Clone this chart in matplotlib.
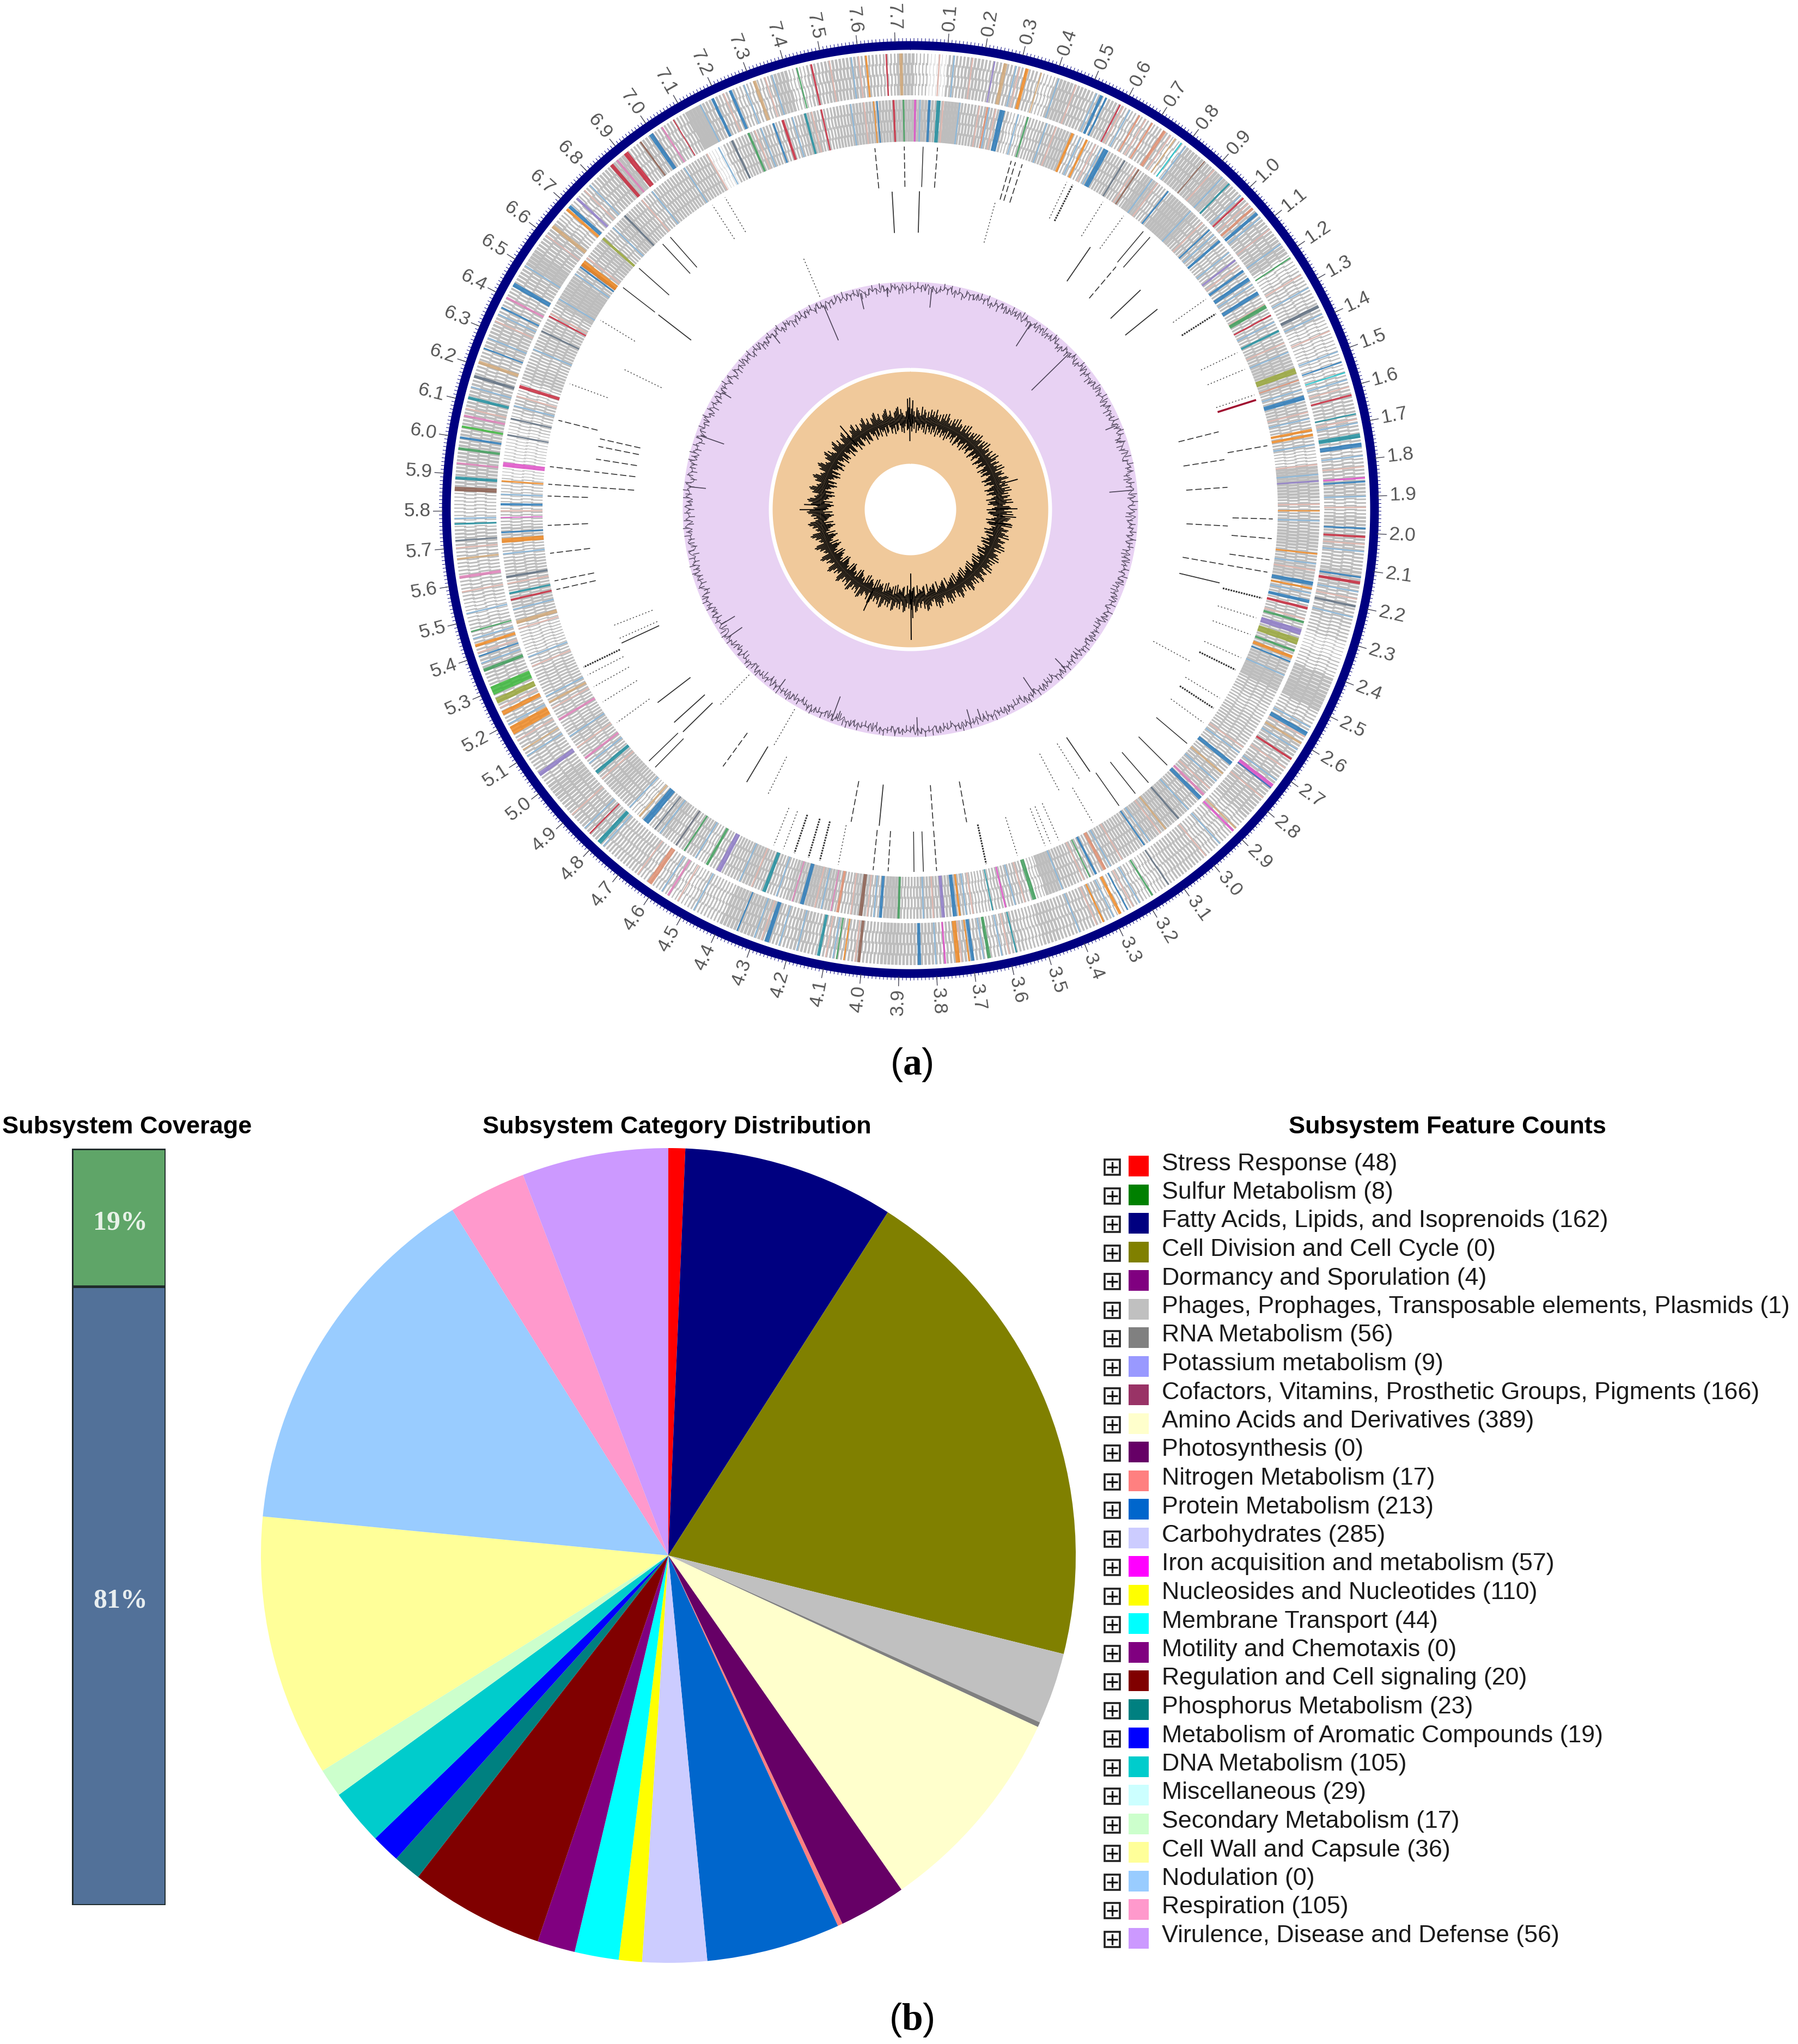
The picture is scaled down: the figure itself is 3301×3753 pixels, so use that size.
# -*- coding: utf-8 -*-
"""
Genome map (a) and subsystem summary (b)
"""
import numpy as np
import matplotlib
matplotlib.use("Agg")
import matplotlib.pyplot as plt

plt.rcParams['font.family'] = ['Liberation Sans', 'DejaVu Sans']
plt.rcParams['mathtext.fontset'] = 'custom'
plt.rcParams['mathtext.rm'] = 'Liberation Serif'
plt.rcParams['mathtext.bf'] = 'Liberation Serif:bold'

W, H = 3301, 3753

# ---------- panel a data ----------
genome_mb = 7.74
tick_labels = ['%.1f' % (i / 10.) for i in range(1, 78)]

# grey share of each 0.05 Mb bin, 0 (empty) to 9 (solid), read by eye
ring1_density = ("3156555376" "5644537786" "6667344533" "3455545646" "6575542378"
                 "4565666444" "5543435556" "4545656675" "5556577744" "3445556667"
                 "5555555654" "3444533666" "6665566556" "8664456856" "5596544735"
                 "66547")
ring2_density = ("8796663567" "4466585886" "6555555567" "7565538756" "7676556678"
                 "5455556667" "7766655683" "5544666585" "7578756765" "4657536765"
                 "5655554335" "6554643322" "2353656658" "8667576566" "6615665575"
                 "67778")

gene_colors = {'blue': '#2b7bba', 'orange': '#f08a24', 'red': '#c8283c', 'pink': '#df7fb8',
               'magenta': '#e050c8', 'green': '#3e9e5a', 'lime': '#3cb83c', 'teal': '#1f8f9f',
               'cyan': '#22c4cc', 'purple': '#8e7cc8', 'brown': '#8c5f50', 'salmon': '#e08e70',
               'tan': '#d2a878', 'olive': '#9aa83c', 'slate': '#5f6f80'}

# (position Mb, category colour, length kb)
ring1_genes = [
    (0.23, 'purple', 4), (0.26, 'tan', 10), (0.32, 'orange', 9), (0.36, 'tan', 4), (0.534, 'blue', 8),
    (0.548, 'blue', 5), (0.59, 'red', 4), (0.65, 'salmon', 5), (0.69, 'salmon', 5), (0.73, 'salmon', 9),
    (0.765, 'tan', 4), (0.785, 'cyan', 4), (0.865, 'brown', 3), (0.955, 'teal', 5), (1.01, 'red', 5),
    (1.047, 'salmon', 7), (1.065, 'blue', 9), (1.215, 'green', 4), (1.367, 'slate', 9), (1.53, 'blue', 4),
    (1.56, 'cyan', 4), (1.623, 'red', 5), (1.675, 'teal', 4), (1.735, 'teal', 12), (1.76, 'blue', 12),
    (1.85, 'magenta', 5), (1.86, 'blue', 5), (1.987, 'blue', 5), (2.01, 'red', 6), (2.12, 'blue', 5),
    (2.135, 'red', 8), (2.2, 'slate', 6), (2.57, 'blue', 12), (2.6, 'tan', 6), (2.65, 'red', 6),
    (2.74, 'magenta', 14), (2.745, 'blue', 4), (2.89, 'tan', 5), (2.90, 'magenta', 6), (3.127, 'slate', 4),
    (3.18, 'green', 5), (3.257, 'blue', 4), (3.28, 'orange', 8), (3.33, 'orange', 5), (3.58, 'teal', 4),
    (3.655, 'green', 9), (3.70, 'blue', 9), (3.71, 'orange', 4), (3.74, 'orange', 12), (3.775, 'magenta', 5),
    (3.845, 'blue', 9), (4.01, 'brown', 8), (4.05, 'orange', 4), (4.07, 'green', 4), (4.12, 'teal', 8),
    (4.265, 'blue', 12), (4.35, 'blue', 4), (4.56, 'pink', 6), (4.62, 'salmon', 14), (4.795, 'teal', 12),
    (4.83, 'red', 4), (5.04, 'purple', 12), (5.12, 'tan', 4), (5.18, 'orange', 24), (5.233, 'orange', 12),
    (5.27, 'olive', 16), (5.30, 'lime', 24), (5.36, 'green', 9), (5.40, 'blue', 4), (5.43, 'orange', 8),
    (5.47, 'green', 4), (5.62, 'pink', 8), (5.67, 'tan', 5), (5.72, 'slate', 4), (5.765, 'teal', 5),
    (5.86, 'brown', 12), (5.89, 'teal', 8), (5.93, 'pink', 5), (5.97, 'green', 7), (6.0, 'blue', 6),
    (6.03, 'lime', 6), (6.06, 'pink', 6), (6.11, 'teal', 8), (6.17, 'slate', 8), (6.21, 'tan', 9),
    (6.25, 'blue', 4), (6.37, 'blue', 5), (6.40, 'pink', 6), (6.44, 'blue', 12), (6.63, 'tan', 10),
    (6.69, 'orange', 8), (6.70, 'blue', 10), (6.73, 'purple', 7), (6.86, 'red', 10), (6.88, 'pink', 6),
    (6.91, 'red', 14), (6.96, 'brown', 5), (6.995, 'blue', 12), (7.03, 'pink', 5), (7.067, 'red', 3),
    (7.187, 'blue', 8), (7.24, 'blue', 8), (7.31, 'tan', 9), (7.43, 'green', 4), (7.47, 'red', 5),
    (7.62, 'orange', 5), (7.675, 'red', 4), (7.715, 'tan', 9)]
ring2_genes = [
    (0.015, 'magenta', 6), (0.058, 'blue', 8), (0.086, 'teal', 12), (0.234, 'salmon', 5), (0.28, 'blue', 16),
    (0.36, 'green', 5), (0.503, 'orange', 8), (0.55, 'orange', 7), (0.615, 'blue', 16), (0.68, 'slate', 5),
    (0.73, 'brown', 5), (0.84, 'blue', 5), (1.01, 'blue', 5), (1.055, 'blue', 8), (1.13, 'purple', 6),
    (1.17, 'blue', 8), (1.20, 'blue', 12), (1.25, 'blue', 12), (1.297, 'green', 12), (1.327, 'red', 5),
    (1.38, 'teal', 7), (1.51, 'olive', 18), (1.54, 'salmon', 4), (1.595, 'blue', 14), (1.695, 'orange', 8),
    (1.71, 'orange', 8), (1.85, 'purple', 5), (1.94, 'orange', 4), (2.07, 'orange', 5), (2.16, 'blue', 12),
    (2.175, 'orange', 6), (2.215, 'blue', 10), (2.236, 'red', 8), (2.28, 'green', 7), (2.31, 'purple', 18),
    (2.34, 'olive', 20), (2.37, 'green', 7), (2.39, 'orange', 10), (2.405, 'blue', 5), (2.76, 'blue', 12),
    (2.80, 'tan', 6), (2.90, 'blue', 12), (2.885, 'pink', 8), (2.99, 'slate', 6), (3.04, 'tan', 6),
    (3.12, 'blue', 5), (3.26, 'salmon', 10), (3.29, 'blue', 7), (3.31, 'green', 4), (3.49, 'green', 12),
    (3.58, 'magenta', 5), (3.62, 'teal', 4), (3.72, 'orange', 6), (3.735, 'blue', 12), (3.77, 'purple', 10),
    (3.905, 'green', 7), (3.96, 'blue', 9), (4.02, 'brown', 11), (4.09, 'salmon', 8), (4.11, 'pink', 4),
    (4.2, 'blue', 12), (4.23, 'pink', 4), (4.32, 'teal', 11), (4.47, 'purple', 15), (4.51, 'green', 8),
    (4.59, 'green', 5), (4.62, 'slate', 5), (4.70, 'slate', 4), (4.735, 'blue', 20), (4.76, 'tan', 6),
    (4.945, 'teal', 11), (5.0, 'pink', 7), (5.14, 'pink', 7), (5.2, 'tan', 7), (5.46, 'tan', 11),
    (5.53, 'red', 6), (5.55, 'teal', 6), (5.60, 'slate', 7), (5.71, 'orange', 14), (5.735, 'blue', 5),
    (5.78, 'magenta', 3), (5.82, 'blue', 7), (5.89, 'orange', 5), (5.94, 'magenta', 14), (6.03, 'slate', 5),
    (6.08, 'slate', 5), (6.18, 'red', 10), (6.36, 'slate', 5), (6.41, 'red', 5), (6.585, 'blue', 5),
    (6.595, 'brown', 10), (6.6, 'orange', 18), (6.695, 'olive', 8), (6.79, 'slate', 6), (7.185, 'slate', 7),
    (7.24, 'green', 7), (7.32, 'blue', 6), (7.35, 'red', 8), (7.42, 'teal', 7), (7.47, 'red', 5),
    (7.63, 'orange', 4), (7.64, 'blue', 4), (7.69, 'red', 6), (7.72, 'green', 5)]

# paler hairline genes in both rings, positions in Mb
ring1_pale_blue = [0.12, 0.29, 0.41, 0.52, 0.62, 0.8, 0.93, 1.0, 1.08, 1.12, 1.17, 1.31, 1.39, 1.5, 1.58, 1.7,
                   1.79, 1.9, 2.05, 2.16, 2.23, 2.55, 2.62, 2.72, 2.95, 3.22, 3.3, 3.4, 3.62, 3.67, 3.8,
                   4.08, 4.18, 4.23, 4.3, 4.48, 4.58, 4.78, 4.85, 5.1, 5.2, 5.38, 5.45, 5.52, 5.78, 6.14, 6.28,
                   6.35, 6.5, 6.6, 6.78, 7.0, 7.15, 7.28, 7.36, 7.58]
ring1_pale_red = [0.08, 0.17, 0.3, 0.46, 0.6, 0.67, 0.75, 0.9, 1.03, 1.12, 1.27, 1.44, 1.6, 1.69, 1.82, 1.93,
                  2.03, 2.18, 2.58, 2.68, 2.78, 3.0, 3.24, 3.35, 3.6, 3.73, 4.02, 4.1, 4.28, 4.53, 4.66,
                  4.9, 5.15, 5.25, 5.41, 5.58, 5.7, 6.08, 6.33, 6.6, 6.76, 7.0, 7.22, 7.34, 7.52, 7.6]
ring2_pale_blue = [0.03, 0.15, 0.24, 0.33, 0.42, 0.53, 0.6, 0.78, 0.93, 1.03, 1.1, 1.22, 1.35, 1.45, 1.57, 1.66,
                   1.74, 1.83, 1.97, 2.1, 2.19, 2.45, 2.72, 2.83, 2.95, 3.1, 3.24, 3.4, 3.55, 3.7, 3.83,
                   3.98, 4.14, 4.28, 4.4, 4.55, 4.68, 4.8, 4.98, 5.08, 5.22, 5.35, 5.5, 5.67, 5.85, 6.12,
                   6.3, 6.47, 6.56, 6.74, 6.9, 7.02, 7.14, 7.28, 7.38, 7.56]
ring2_pale_red = [0.1, 0.21, 0.26, 0.45, 0.58, 0.72, 0.8, 0.98, 1.15, 1.29, 1.42, 1.64, 1.8, 1.92, 2.12, 2.27,
                  2.7, 2.86, 3.06, 3.2, 3.33, 3.52, 3.68, 3.8, 4.0, 4.05, 4.16, 4.36, 4.62, 4.92, 5.04, 5.18,
                  5.32, 5.44, 5.58, 5.8, 6.15, 6.42, 6.62, 6.86, 7.1, 7.26, 7.44, 7.6]

# mobile element tracks between gene rings and GC circle, positions in Mb
outer_solid = [0.044, 0.86, 0.89, 2.8, 2.9, 2.987, 3.045, 3.114, 3.825, 3.857, 4.83, 4.86, 6.615, 6.70, 6.815, 6.85]
outer_dash = [0.093, 0.363, 0.387, 0.348, 1.718, 1.968, 2.035, 2.107, 2.15, 3.78, 3.945, 3.996, 5.53, 5.56,
              5.655, 5.75, 5.85, 5.89, 5.95, 6.11, 7.62, 7.72]
outer_dot = [0.55, 0.69, 0.775, 1.174, 1.385, 1.447, 1.54, 2.31, 2.37, 2.455, 2.61, 2.71, 3.22, 3.35, 3.38,
             3.40, 3.5, 4.116, 4.31, 4.345, 5.03, 5.115, 5.175, 5.22, 6.24, 6.48, 7.03, 7.08]
outer_dense = [0.572, 1.234, 2.24, 2.5, 2.65, 3.61, 4.18, 4.22, 4.27, 5.25]
inner_solid = [0.036, 0.742, 0.998, 1.097, 2.223, 3.13, 3.99, 4.535, 4.85, 4.90, 5.0, 5.27, 6.615, 7.67]
inner_dash = [0.867, 1.632, 1.742, 1.85, 2.0, 2.15, 3.65, 3.78, 4.10, 4.645, 5.89, 5.95, 6.0, 6.05, 6.08]
inner_dot = [0.333, 2.548, 3.18, 3.27, 4.44, 5.29, 5.345, 6.365]
third_track = [4.515, 4.82, 7.245]
red_elements = [1.558]

# GC content wiggle on the purple band, offset digit per bin (5 = mean)
gc_trace = ("5736482957316485927364185729364815273948162739"
            "5184627395816472935162847395164829375618429735"
            "6182947351628493751864297316584923716485293761"
            "4829516374829165738291647385291647382956147382"
            "9165473829156473928164573928461573829461573928"
            "1465739284615739284165738294615738291465738291"
            "6473829156473829164573829461573928146573928461"
            "5372918465372916485739216485739261485739216845"
            "7392618457392168457392618453792168453729618457"
            "3926184573921684573926184573291684572936184752"
            "9361847529631847529368147529361847259361847529"
            "3618475293618472593618475296318475293618472953")
gc_whisker = ("2816395740618293754160829375146028937516402893"
              "7514602839751460283975164028397516042893751604"
              "2897351604289735160428973516042987351640298735"
              "1640297835164029783516402978351604297835160429"
              "7835164029738516402973851640279385164027938516"
              "4027938561402793856140279385614072938561407293"
              "8561407293856140729385164072938516407293851640"
              "7239851640723985164072398516047239851604723985")
gc_spike_mb = [0.12, 0.71, 0.98, 1.46, 1.55, 1.83, 2.92, 3.14, 3.47, 3.53, 3.83, 4.28, 4.31,
               4.65, 5.05, 5.13, 5.93, 6.22, 6.49, 6.92, 7.245, 7.46, 7.61]
gc_spike_depth = [35, 50, 95, 20, 10, 40, 25, 35, 20, 25, 25, 15, 40, 20, 30, 30, 30, 45, 20, 20, 70, 30, 15]

# GC skew envelope, above and below the mean circle, digit per bin
skew_high = ("3725186429375162847395261748396251748293651748"
             "2935164728395617482936517428396157248391657248"
             "9361572849361752849316752849137652849137625849"
             "1376258491732658491736258491376258941736258947"
             "1362589471362859471326859471326589471362589417"
             "3625894173625891473625891743625891743265891743"
             "6258917436258971436258971346258971342658971342"
             "6589713426589731426589734126589734216589734216"
             "5897342165897342165893742165893472165893471265"
             "8934712658934721658934721568934721568937421568")
skew_low = ("4826193752648193572846193752846391752648319752"
            "6843917526843197526841397526841395726841359726"
            "8413597268413592768413592786413592786143592781"
            "6435927816435928716435928176435928176453928176"
            "4539281764539218764539218746539218745639218745"
            "6392187456392817456392814756392814576392814536"
            "7928145367928143567928143576928143579628143579"
            "6281435796281345796281354796281354792681354792"
            "6813547926813549726813549276813549267813549267"
            "8135492678135492761835492761385492761385942761")
skew_spike_mb = [7.735, 7.71, 0.03, 3.86, 3.84, 5.80, 5.86, 1.93, 2.03, 2.13, 1.60, 4.4, 6.88]
skew_spike_in = [125, 150, 150, 118, 150, 165, 165, 165, 165, 155, 175, 150, 150]
skew_spike_out = [205, 203, 200, 240, 200, 203, 195, 197, 195, 190, 205, 205, 200]

# ---------- panel b data ----------
coverage_values = [81.8, 18.2]
coverage_colors = ['#527199', '#5fa568']
coverage_labels = ['81%', '19%']

categories = ['Stress Response (48)', 'Sulfur Metabolism (8)', 'Fatty Acids, Lipids, and Isoprenoids (162)',
              'Cell Division and Cell Cycle (0)', 'Dormancy and Sporulation (4)',
              'Phages, Prophages, Transposable elements, Plasmids (1)', 'RNA Metabolism (56)',
              'Potassium metabolism (9)', 'Cofactors, Vitamins, Prosthetic Groups, Pigments (166)',
              'Amino Acids and Derivatives (389)', 'Photosynthesis (0)', 'Nitrogen Metabolism (17)',
              'Protein Metabolism (213)', 'Carbohydrates (285)', 'Iron acquisition and metabolism (57)',
              'Nucleosides and Nucleotides (110)', 'Membrane Transport (44)', 'Motility and Chemotaxis (0)',
              'Regulation and Cell signaling (20)', 'Phosphorus Metabolism (23)',
              'Metabolism of Aromatic Compounds (19)', 'DNA Metabolism (105)', 'Miscellaneous (29)',
              'Secondary Metabolism (17)', 'Cell Wall and Capsule (36)', 'Nodulation (0)',
              'Respiration (105)', 'Virulence, Disease and Defense (56)']
category_colors = ['#ff0000', '#008000', '#000080', '#808000', '#800080', '#c0c0c0', '#808080',
                   '#9999ff', '#993366', '#ffffcc', '#660066', '#ff8080', '#0066cc', '#ccccff',
                   '#ff00ff', '#ffff00', '#00ffff', '#800080', '#800000', '#008080', '#0000ff',
                   '#00cccc', '#ccffff', '#ccffcc', '#ffff99', '#99ccff', '#ff99cc', '#cc99ff']
# slice sizes in degrees as drawn (they do not follow the counts in the legend)
pie_degrees = [2.4, 0, 30.2, 71.4, 0, 10.2, 0.7, 0, 0, 30.2, 9.6, 0.7, 19.1, 9.2, 0, 3.3, 6.3, 5.4,
               19.2, 4.0, 4.1, 8.0, 0, 4.1, 37.4, 52.5, 11.1, 20.9]


def axes_px(fig, x0, y0, x1, y1, **kw):
    # axes from pixel box, y counted from top of the image
    return fig.add_axes([x0 / W, 1 - y1 / H, (x1 - x0) / W, (y1 - y0) / H], **kw)


def mb2rad(mb):
    return np.asarray(mb) * 2 * np.pi / genome_mb


def draw_ring(ax, density, genes, pale_blue, pale_red, r_in, r_out):
    bin_mb = 0.05
    stripes = 5
    layers = 4
    d = np.array([int(c) for c in density])
    start = np.arange(len(d)) * bin_mb
    step_mb = bin_mb / stripes
    step_px = r_out * 2 * np.pi / genome_mb * step_mb
    dr = (r_out - r_in) / float(layers)
    # stripes are cut in short layers, every other one shifted a bit, the layers overlap
    for k in range(layers):
        shift = 0.3 * step_mb * (k % 2)
        low = max(r_in, r_in + k * dr - 2)
        high = min(r_out, r_in + (k + 1) * dr + 2)
        for i in range(stripes):
            pos = start + (i + 0.5) * step_mb + shift
            ax.vlines(mb2rad(pos), low, high, color='#bdbdbd', linewidth=step_px * d / 9. * 0.72)
    ax.vlines(mb2rad(pale_blue), r_in, r_out, color='#8fb8d8', linewidth=1.8, zorder=3)
    ax.vlines(mb2rad(pale_red), r_in, r_out, color='#e0b8b0', linewidth=1.8, zorder=3)
    for pos, name, kb in genes:
        ax.bar(mb2rad(pos), r_out - r_in, width=mb2rad(kb / 1000.), bottom=r_in,
               color=gene_colors[name], linewidth=0, alpha=0.85, zorder=4)


fig = plt.figure(figsize=(W / 100., H / 100.), dpi=100, facecolor='white')

# ---------- panel a ----------
cx, cy, R = 1671, 935, 935
ax = axes_px(fig, cx - R, cy - R, cx + R, cy + R, projection='polar')
ax.set_theta_zero_location('N')
ax.set_theta_direction(-1)
ax.set_ylim(0, R)
ax.set_axis_off()

circle = np.linspace(0, 2 * np.pi, 721)
ax.fill_between(circle, 84, 253, color='#f0c99b', linewidth=0)
ax.fill_between(circle, 260, 418, color='#e8d2f3', linewidth=0)
ax.fill_between(circle, 844, 860, color='#000080', linewidth=0)

# scale ticks
fine = np.arange(0, genome_mb, 0.01)
ax.vlines(mb2rad(fine), 858, 865, color='#000080', linewidth=0.7)
major = np.array([float(s) for s in tick_labels])
ax.vlines(mb2rad(major), 858, 876, color='#444455', linewidth=1.0)
for s, mb in zip(tick_labels, major):
    deg = float(mb) * 360. / genome_mb
    rot = 90 - deg if deg < 180 else 270 - deg
    ax.text(mb2rad(mb), 905, s, rotation=rot, rotation_mode='anchor', ha='center', va='center',
            fontsize=25.5, color='#555555')

draw_ring(ax, ring1_density, ring1_genes, ring1_pale_blue, ring1_pale_red, 760, 837)
draw_ring(ax, ring2_density, ring2_genes, ring2_pale_blue, ring2_pale_red, 675, 752)

# mobile element tracks
dotted = (0, (1.5, 2.5))
dashed = (0, (7, 3))
ax.vlines(mb2rad(outer_solid), 592, 666, color='#333333', linewidth=1.1)
ax.vlines(mb2rad(outer_dash), 592, 666, color='#333333', linewidth=1.2, linestyles=[dashed])
ax.vlines(mb2rad(outer_dot), 592, 666, color='#444444', linewidth=1.1, linestyles=[dotted])
ax.vlines(mb2rad(outer_dense), 592, 666, color='#333333', linewidth=2.2, linestyles=[(0, (1, 0.6))])
ax.vlines(mb2rad(inner_solid), 508, 584, color='#333333', linewidth=1.3)
ax.vlines(mb2rad(inner_dash), 508, 584, color='#333333', linewidth=1.2, linestyles=[dashed])
ax.vlines(mb2rad(inner_dot), 508, 584, color='#444444', linewidth=1.1, linestyles=[dotted])
ax.vlines(mb2rad(third_track), 424, 500, color='#444444', linewidth=1.1, linestyles=[dotted])
ax.vlines(mb2rad(red_elements), 592, 666, color='#a01030', linewidth=2.6)

# GC content
gc = np.array([int(c) for c in gc_trace])
gc_th = mb2rad(np.arange(len(gc)) * genome_mb / len(gc))
gc_r = 407 + (gc - 5) * 1.8
ax.plot(np.r_[gc_th, gc_th[0]], np.r_[gc_r, gc_r[0]], color='#4d4458', linewidth=0.8)
gw = np.array([int(c) for c in gc_whisker])
gw_th = mb2rad(np.arange(len(gw)) * genome_mb / len(gw))
ax.vlines(gw_th, 407 - gw * 1.3, 407 + (9 - gw) * 1.3, color='#4d4458', linewidth=1.0)
ax.vlines(mb2rad(gc_spike_mb), 407 - np.array(gc_spike_depth), 407, color='#4d4458', linewidth=1.2)

# GC skew
hi = np.array([int(c) for c in skew_high])
lo = np.array([int(c) for c in skew_low])
ax.vlines(mb2rad(np.arange(len(hi)) * genome_mb / len(hi)), 165, 168 + hi * 2.4, color='black', linewidth=1.4)
ax.vlines(mb2rad((np.arange(len(lo)) + 0.5) * genome_mb / len(lo)), 162 - lo * 2.4, 165, color='black', linewidth=1.4)
ax.vlines(mb2rad(skew_spike_mb), skew_spike_in, skew_spike_out, color='black', linewidth=1.4)

fig.text(1673 / W, 1 - 1955 / H, r'($\mathbf{a}$)', ha='center', va='center', fontsize=50, color='black')
fig.text(1673 / W, 1 - 3709 / H, r'($\mathbf{b}$)', ha='center', va='center', fontsize=50, color='black')

# ---------- panel b ----------
title_font = dict(fontsize=32.5, fontweight='bold', color='black', ha='center', va='center')
fig.text(233 / W, 1 - 2069 / H, 'Subsystem Coverage', **title_font)
fig.text(1243 / W, 1 - 2069 / H, 'Subsystem Category Distribution', **title_font)
fig.text(2657 / W, 1 - 2069 / H, 'Subsystem Feature Counts', **title_font)

# coverage bar
ax_cov = axes_px(fig, 132, 2109, 304, 3498)
ax_cov.bar([0], [coverage_values[0]], width=1, color=coverage_colors[0], edgecolor='#1f2a2a', linewidth=3.4)
ax_cov.bar([0], [coverage_values[1]], width=1, bottom=coverage_values[0], color=coverage_colors[1],
           edgecolor='#1f2a2a', linewidth=3.4)
ax_cov.set_xlim(-0.5, 0.5)
ax_cov.set_ylim(0, sum(coverage_values))
ax_cov.set_axis_off()
ax_cov.text(0.02, coverage_values[0] / 2. - 0.7, coverage_labels[0], color='#e8eef0', fontsize=36, fontweight='bold',
            family='Liberation Serif', ha='center', va='center')
ax_cov.text(0.02, coverage_values[0] + coverage_values[1] / 2. - 0.7, coverage_labels[1], color='#e8f2e8', fontsize=36,
            fontweight='bold', family='Liberation Serif', ha='center', va='center')

# pie
ax_pie = axes_px(fig, 1227 - 748, 2856 - 748, 1227 + 748, 2856 + 748)
ax_pie.pie(pie_degrees, colors=category_colors, startangle=90, counterclock=False, radius=1,
           wedgeprops=dict(linewidth=0))
ax_pie.set_xlim(-1, 1)
ax_pie.set_ylim(-1, 1)

# legend list
ax_leg = axes_px(fig, 2000, 2100, 3301, 3600)
rows = np.arange(len(categories))
ax_leg.set_xlim(2000, 3301)
ax_leg.set_ylim(3600, 2100)
ax_leg.set_axis_off()
row_y = 2141 + rows * 52.5
ax_leg.barh(row_y, 37, left=2072, height=38, color=category_colors, linewidth=0)
ax_leg.barh(row_y + 2, 28, left=2028, height=28, color='white', edgecolor='#222222', linewidth=2.6)
ax_leg.scatter(np.full(len(rows), 2042), row_y + 2, marker='+', s=190, color='#111111', linewidth=2.4)
for y, name in zip(row_y, categories):
    ax_leg.text(2133, y - 4, name, fontsize=32.25, color='#1a1a1a', ha='left', va='center')

fig.savefig('out.png', dpi=100, facecolor='white')
